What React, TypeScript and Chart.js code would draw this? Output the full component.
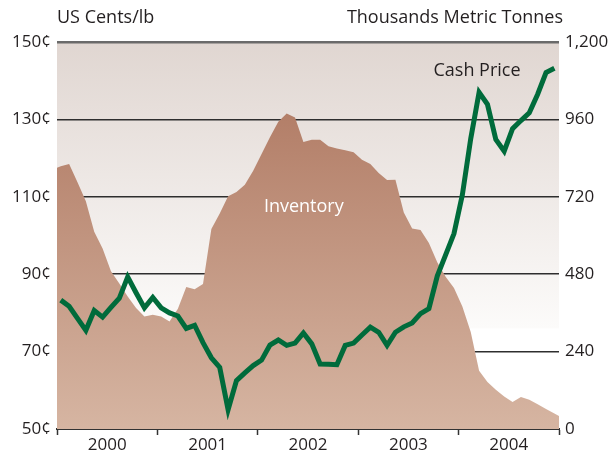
import React, { useEffect, useRef } from "react";
import { Chart, registerables } from "chart.js";

Chart.register(...registerables);

// ---- data ----
const yearLabels = ["2000", "2001", "2002", "2003", "2004"];

// Monthly cash price, US cents/lb, Jan 2000 .. Dec 2004
const priceCents = [
  83.3, 81.7, 78.6, 75.5, 80.6, 78.9, 81.4, 83.8, 89.3, 85.2, 81.3, 84.0,
  81.3, 80.0, 79.2, 76.0, 76.8, 72.3, 68.4, 65.9, 55.0, 62.5, 64.5, 66.4,
  67.8, 71.7, 73.0, 71.6, 72.2, 74.8, 72.0, 66.8, 66.7, 66.6, 71.6, 72.2,
  74.3, 76.3, 75.0, 71.6, 75.0, 76.4, 77.4, 79.8, 81.1, 89.5, 95.0, 100.5,
  110.5, 125.0, 137.0, 133.9, 124.8, 121.8, 127.6, 129.7, 131.7, 136.5, 142.1, 143.2,
];

// Monthly inventory, thousands metric tonnes
const inventoryKt = [
  815, 822, 765, 706, 612, 560, 489, 451, 411, 375, 349, 354,
  349, 333, 373, 440, 433, 450, 620, 668, 722, 735, 757, 801,
  853, 905, 953, 978, 966, 890, 897, 897, 877, 870, 864, 858,
  835, 822, 794, 772, 773, 671, 622, 617, 577, 517, 472, 437,
  380, 301, 181, 146, 122, 101, 84, 99, 91, 77, 62, 48,
];
// inventory at the very start and very end of the period
const inventoryEdgesKt = [810, 40];

const priceTicks = [50, 70, 90, 110, 130, 150];
const inventoryTicks = [0, 240, 480, 720, 960, 1200];
const yearTicks = [0, 6, 12, 18, 24, 30, 36, 42, 48, 54, 60];

const FONT = "'Open Sans', 'Noto Sans', sans-serif";
const TEXT = "#231f20";

export default function App() {
  const ref = useRef<HTMLCanvasElement>(null);

  useEffect(() => {
    if (!ref.current) return;
    const pricePoints = priceCents.map((v, i) => ({ x: i + 0.45, y: v }));
    const invPoints = [
      { x: 0, y: inventoryEdgesKt[0] },
      ...inventoryKt.map((v, i) => ({ x: i + 0.45, y: v })),
      { x: 60, y: inventoryEdgesKt[1] },
    ];

    const deco = {
      id: "deco",
      beforeDraw(chart: any) {
        const { ctx, chartArea: a } = chart;
        const fadeEnd = a.top + (a.bottom - a.top) * 0.74;
        const g = ctx.createLinearGradient(0, a.top, 0, fadeEnd);
        g.addColorStop(0, "#e0d6d1");
        g.addColorStop(1, "#fcfbfa");
        ctx.save();
        ctx.fillStyle = g;
        ctx.fillRect(a.left, a.top, a.right - a.left, fadeEnd - a.top);
        ctx.restore();
      },
      afterDraw(chart: any) {
        const { ctx, chartArea: a, scales } = chart;
        ctx.save();
        ctx.font = `18px ${FONT}`;
        ctx.fillStyle = TEXT;
        ctx.textBaseline = "middle";
        ctx.textAlign = "left";
        ctx.fillText("US Cents/lb", a.left, 18);
        ctx.textAlign = "right";
        ctx.fillText("Thousands Metric Tonnes", a.right + 4, 18);

        ctx.textAlign = "center";
        ctx.fillStyle = "#ffffff";
        ctx.fillText("Inventory", scales.x.getPixelForValue(29.5), scales.y.getPixelForValue(107.4));
        ctx.fillStyle = TEXT;
        ctx.fillText("Cash Price", scales.x.getPixelForValue(50.2), scales.y.getPixelForValue(142.6));
        ctx.restore();
      },
    };

    const chart = new Chart(ref.current, {
      type: "line",
      data: {
        datasets: [
          {
            label: "Cash Price",
            data: pricePoints,
            yAxisID: "y",
            borderColor: "#006b3b",
            borderWidth: 5,
            borderJoinStyle: "miter",
            borderCapStyle: "butt",
            pointRadius: 0,
            tension: 0,
            fill: false,
          },
          {
            label: "Inventory",
            data: invPoints,
            yAxisID: "y2",
            borderWidth: 0,
            borderColor: "rgba(0,0,0,0)",
            pointRadius: 0,
            tension: 0,
            fill: "origin",
            backgroundColor: (c: any) => {
              const a = c.chart.chartArea;
              if (!a) return "#c0917b";
              const g = c.chart.ctx.createLinearGradient(0, a.top, 0, a.bottom);
              g.addColorStop(0, "#ab725b");
              g.addColorStop(1, "#d6b5a2");
              return g;
            },
          },
        ],
      },
      options: {
        animation: false,
        responsive: false,
        events: [],
        layout: { padding: { top: 42, left: 0, right: 0, bottom: 0 } },
        plugins: { legend: { display: false }, tooltip: { enabled: false } },
        scales: {
          x: {
            type: "linear",
            position: "bottom",
            min: 0,
            max: 60,
            afterBuildTicks: (s: any) => {
              s.ticks = yearTicks.map((v) => ({ value: v }));
            },
            afterFit: (s: any) => {
              s.height = 30;
            },
            ticks: {
              autoSkip: false,
              maxRotation: 0,
              padding: 0,
              color: TEXT,
              font: { family: FONT, size: 17 },
              callback: (v: any) => (v % 12 === 6 ? yearLabels[(v - 6) / 12] : ""),
            },
            grid: {
              drawOnChartArea: false,
              drawTicks: true,
              tickLength: 6,
              tickWidth: 1.5,
              tickColor: (c: any) =>
                c.tick && c.tick.value % 12 === 0 ? "#333333" : "rgba(0,0,0,0)",
            },
            border: { display: true, color: "#333333", width: 2 },
          },
          y: {
            type: "linear",
            position: "left",
            min: 50,
            max: 150,
            afterBuildTicks: (s: any) => {
              s.ticks = priceTicks.map((v) => ({ value: v }));
            },
            afterFit: (s: any) => {
              s.width = 57;
            },
            ticks: {
              padding: 6,
              color: TEXT,
              font: { family: FONT, size: 17 },
              callback: (v: any) => `${v}¢`,
            },
            grid: {
              drawTicks: false,
              color: (c: any) => (c.tick && c.tick.value === 150 ? "#6a6a6a" : "#2e2e2e"),
              lineWidth: (c: any) => (c.tick && c.tick.value === 150 ? 2.5 : 1.5),
            },
            border: { display: false },
          },
          y2: {
            type: "linear",
            position: "right",
            min: 0,
            max: 1200,
            afterBuildTicks: (s: any) => {
              s.ticks = inventoryTicks.map((v) => ({ value: v }));
            },
            afterFit: (s: any) => {
              s.width = 52;
            },
            ticks: {
              padding: 6,
              color: TEXT,
              font: { family: FONT, size: 17 },
              callback: (v: any) => Number(v).toLocaleString("en-US"),
            },
            grid: { display: false, drawTicks: false },
            border: { display: false },
          },
        },
      },
      plugins: [deco],
    } as any);

    return () => chart.destroy();
  }, []);

  return (
    <div style={{ position: "fixed", left: 0, top: 0, width: 611, height: 459, background: "#ffffff" }}>
      <canvas ref={ref} width={611} height={459} style={{ display: "block" }} />
    </div>
  );
}
